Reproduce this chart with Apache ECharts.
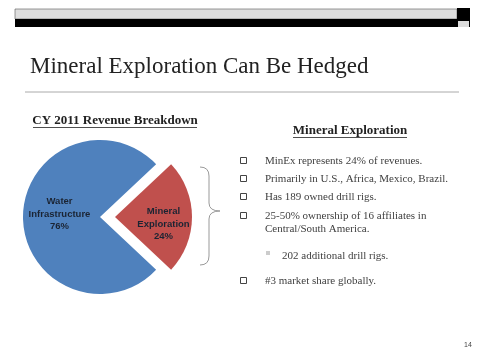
<!DOCTYPE html>
<html><head><meta charset="utf-8">
<script src="https://cdn.jsdelivr.net/npm/echarts@6/dist/echarts.min.js"></script>
<style>html,body{margin:0;padding:0;background:#fff}#c{width:479px;height:360px}</style>
</head><body><div id="c"></div>
<script>
const slideTitle = 'Mineral Exploration Can Be Hedged';
const chartTitle = 'CY 2011 Revenue Breakdown';
const sideTitle = 'Mineral Exploration';
const categories = ['Mineral\nExploration', 'Water\nInfrastructure'];
const values = [24, 76];
const sliceColors = ['#C0504D', '#4F81BD'];
const bulletLines = [
  'MinEx represents 24% of revenues.',
  'Primarily in U.S., Africa, Mexico, Brazil.',
  'Has 189 owned drill rigs.',
  '25-50% ownership of 16 affiliates in',
  'Central/South America.',
  '202 additional drill rigs.',
  '#3 market share globally.'
];
const bulletKinds = ['main', 'main', 'main', 'main', 'cont', 'sub', 'main'];
const pageNumber = '14';

const serif = '"Liberation Serif", "Times New Roman", serif';
const lineY = [161, 179, 197, 216, 229, 256, 281];

const chart = echarts.init(document.getElementById('c'), null, {renderer: 'canvas'});

const braceStyle = {stroke: '#999', lineWidth: 1, fill: null};
const graphics = [
  {type: 'rect', shape: {x: 15, y: 9, width: 442, height: 10}, style: {fill: '#dedede', stroke: '#555', lineWidth: 0.6}},
  {type: 'rect', shape: {x: 15, y: 19, width: 455, height: 8}, style: {fill: '#000'}},
  {type: 'rect', shape: {x: 457, y: 8, width: 13, height: 12}, style: {fill: '#000'}},
  {type: 'rect', shape: {x: 458, y: 21, width: 11, height: 6}, style: {fill: '#dcdcdc'}},
  {type: 'text', x: 30, y: 67, style: {text: slideTitle, font: '23px ' + serif, fill: '#222', verticalAlign: 'middle'}},
  {type: 'line', shape: {x1: 25, y1: 92, x2: 459, y2: 92}, style: {stroke: '#aaa', lineWidth: 1}},
  {type: 'text', x: 115, y: 121, style: {text: chartTitle, font: 'bold 13px ' + serif, fill: '#222', align: 'center', verticalAlign: 'middle'}},
  {type: 'line', shape: {x1: 33, y1: 127.5, x2: 197, y2: 127.5}, style: {stroke: '#222', lineWidth: 0.8}},
  {type: 'text', x: 350, y: 131, style: {text: sideTitle, font: 'bold 13px ' + serif, fill: '#222', align: 'center', verticalAlign: 'middle'}},
  {type: 'line', shape: {x1: 293, y1: 137.5, x2: 407, y2: 137.5}, style: {stroke: '#222', lineWidth: 0.8}},
  {type: 'bezierCurve', shape: {x1: 200, y1: 167, cpx1: 209, cpy1: 167, x2: 209, y2: 176}, style: braceStyle},
  {type: 'line', shape: {x1: 209, y1: 176, x2: 209, y2: 203}, style: braceStyle},
  {type: 'bezierCurve', shape: {x1: 209, y1: 203, cpx1: 209, cpy1: 211, x2: 220, y2: 211}, style: braceStyle},
  {type: 'bezierCurve', shape: {x1: 220, y1: 211, cpx1: 209, cpy1: 211, x2: 209, y2: 219}, style: braceStyle},
  {type: 'line', shape: {x1: 209, y1: 219, x2: 209, y2: 256}, style: braceStyle},
  {type: 'bezierCurve', shape: {x1: 209, y1: 256, cpx1: 209, cpy1: 265, x2: 200, y2: 265}, style: braceStyle},
  {type: 'text', x: 468, y: 345, style: {text: pageNumber, font: '7px "Liberation Sans", sans-serif', fill: '#444', align: 'center', verticalAlign: 'middle'}}
];

bulletLines.forEach((t, i) => {
  const kind = bulletKinds[i];
  const y = lineY[i];
  if (kind === 'main') {
    graphics.push({type: 'rect', shape: {x: 240.5, y: y - 3.5, width: 6, height: 6}, style: {fill: '#fff', stroke: '#444', lineWidth: 1}});
  } else if (kind === 'sub') {
    graphics.push({type: 'rect', shape: {x: 266, y: y - 5, width: 4, height: 4}, style: {fill: '#ccc'}});
  }
  graphics.push({type: 'text', x: kind === 'sub' ? 282 : 265, y: y, style: {text: t, font: '11px ' + serif, fill: '#404040', verticalAlign: 'middle'}});
});

chart.setOption({
  animation: false,
  graphic: graphics,
  series: [{
    type: 'pie',
    center: [100, 217],
    radius: 77,
    startAngle: 43.2,
    clockwise: true,
    selectedMode: 'single',
    selectedOffset: 15,
    emphasis: {disabled: true},
    label: {
      position: 'inner',
      formatter: '{b}\n{d}%',
      fontSize: 9.5,
      fontWeight: 'bold',
      lineHeight: 12.5,
      color: '#1b2433',
      fontFamily: '"Liberation Sans", sans-serif'
    },
    labelLayout: function (p) { return p.dataIndex === 0 ? {dx: 7, dy: 7} : {dx: 1, dy: -3}; },
    data: categories.map((c, i) => ({name: c, value: values[i], selected: i === 0, itemStyle: {color: sliceColors[i]}}))
  }]
});
</script></body></html>
